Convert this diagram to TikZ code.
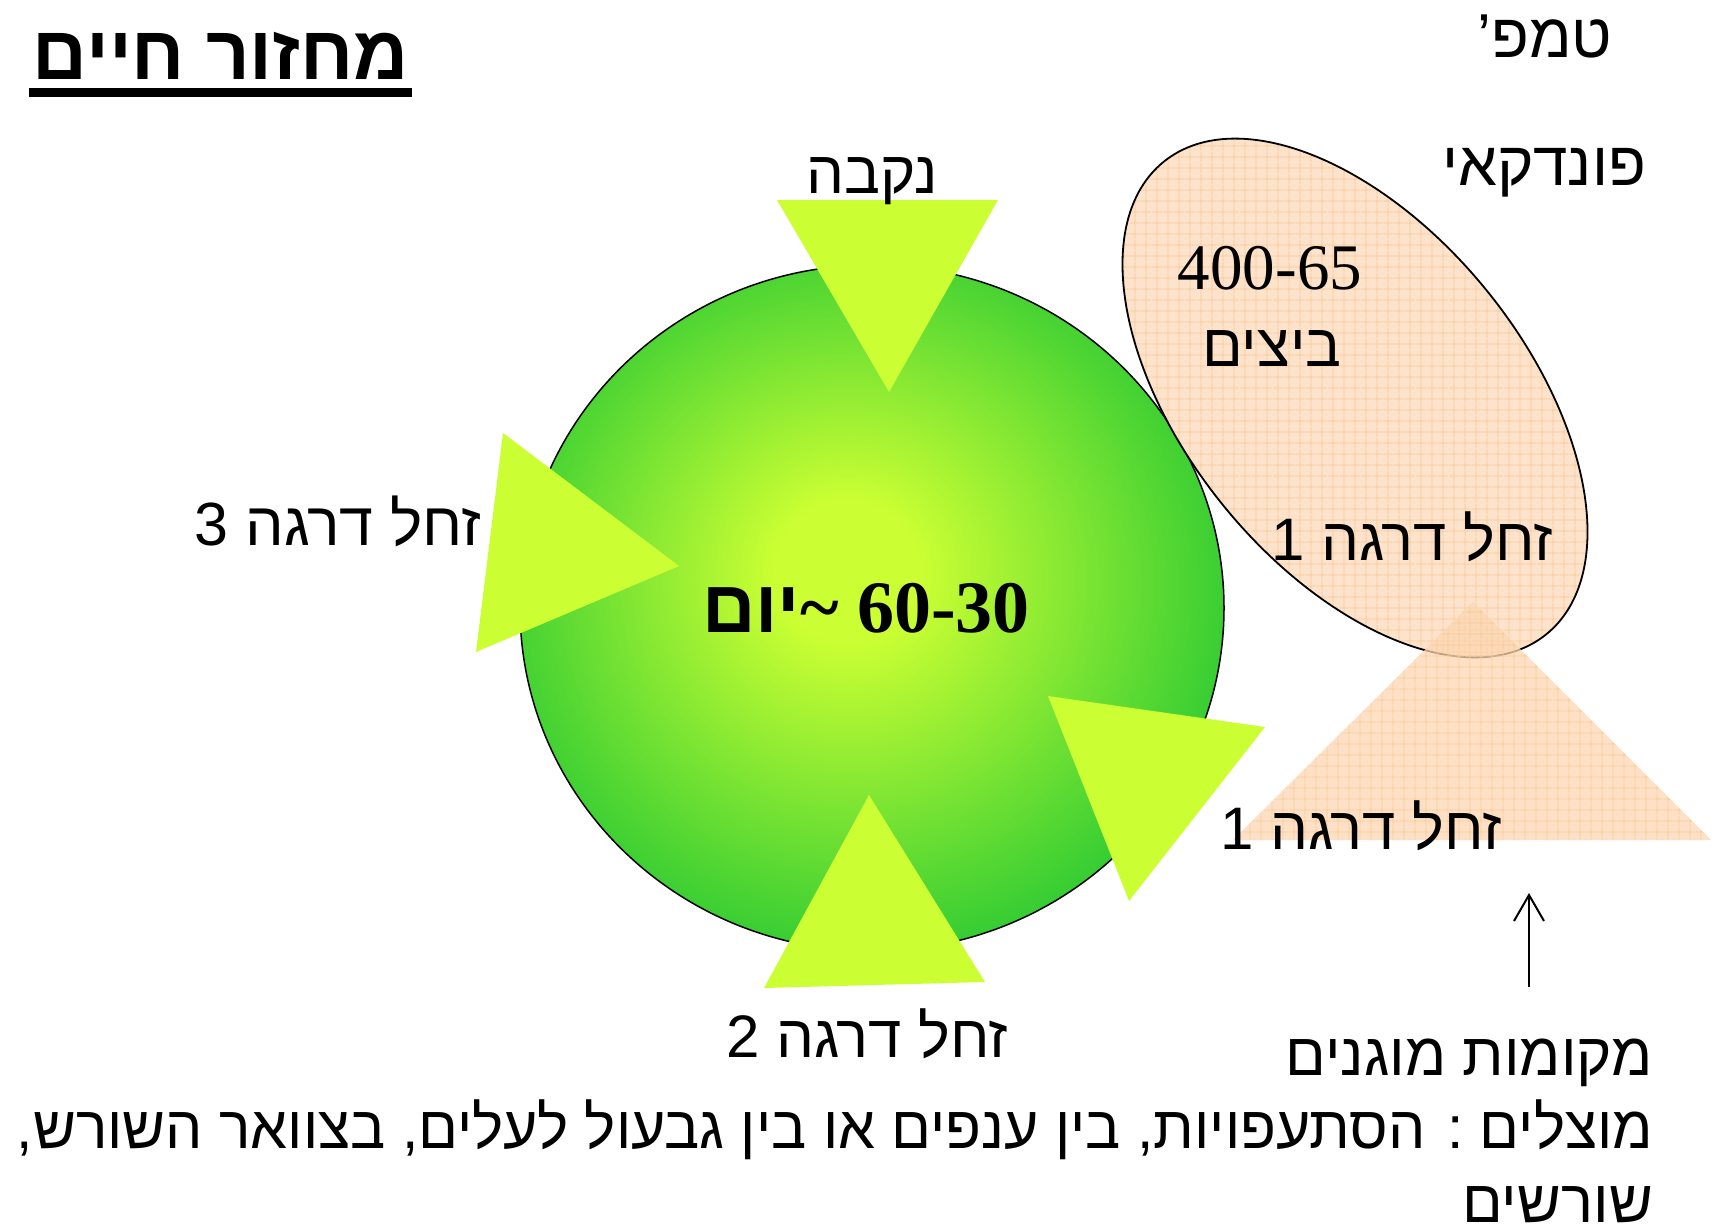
\documentclass[tikz,border=0pt]{standalone}
\usepackage{fontspec}
\usepackage{graphicx}
\usetikzlibrary{patterns.meta,arrows.meta}
\TeXXeTstate=1
\setmainfont{Liberation Sans}
\newfontfamily\heb[Script=Hebrew]{Liberation Sans}
\newfontfamily\tnr{Liberation Serif}
\definecolor{limeC}{HTML}{CCFF33}
\definecolor{greenC}{HTML}{33CC33}
\colorlet{midC}{greenC!45!limeC}
\definecolor{peachC}{HTML}{FDE3CB}
\definecolor{peachT}{HTML}{FCD6B2}
\definecolor{peachL}{HTML}{FAC894}
\pgfdeclareradialshading{greenball}{\pgfpoint{-2bp}{3bp}}{color(0bp)=(limeC); color(5bp)=(limeC); color(15bp)=(midC); color(27bp)=(greenC); color(50bp)=(greenC)}
\tikzset{
  lbl/.style={inner sep=0pt, anchor=base, font=\heb\fontsize{60}{72}\selectfont},
  botlbl/.style={inner sep=0pt, anchor=base east, font=\heb\fontsize{60}{72}\selectfont},
  num/.style={inner sep=0pt, anchor=base, font=\tnr\fontsize{65}{78}\selectfont},
  tri/.style={fill=limeC},
  peachgrid/.style={pattern={Hatch[distance=10.5pt,line width=0.7pt]}, pattern color=peachL}
}
\begin{document}
\begin{tikzpicture}[x=1pt,y=-1pt]
\useasboundingbox (0,0) rectangle (1716,1231);

% green disc
\shadedraw[shading=greenball, draw=black, line width=1.5pt] (872,608) ellipse [x radius=352pt, y radius=343pt];

% green triangles
\fill[tri] (777,200) -- (998,200) -- (889,392) -- cycle;
\fill[tri] (503,433) -- (476,652) -- (679,566) -- cycle;
\fill[tri] (869,795) -- (764,988) -- (985,982) -- cycle;
\fill[tri] (1048,696) -- (1265,727) -- (1129,901) -- cycle;

% peach ellipse
\begin{scope}
  \clip[shift={(1355,398)}, rotate=-51] (0,0) ellipse [x radius=304pt, y radius=170pt];
  \fill[peachC] (1000,100) rectangle (1716,720);
  \fill[peachgrid] (1000,100) rectangle (1716,720);
\end{scope}
\draw[line width=1.8pt, shift={(1355,398)}, rotate=-51] (0,0) ellipse [x radius=304pt, y radius=170pt];

% peach triangle
\fill[peachT, fill opacity=0.75] (1473,602) -- (1233,840) -- (1711,840) -- cycle;
\fill[peachgrid] (1473,602) -- (1233,840) -- (1711,840) -- cycle;

% title
\node[inner sep=0pt, anchor=base, font=\heb\bfseries\fontsize{76}{90}\selectfont] (title) at (221,80) {\beginR מחזור חיים\endR};
\fill ([xshift=-4pt,yshift=-8pt]title.base west) rectangle ([xshift=3pt,yshift=-17pt]title.base east);

% labels
\node[lbl, font=\heb\fontsize{62}{72}\selectfont] (temp) at (1545,58) {\beginR טמפ’\endR};
\node[lbl, font=\heb\fontsize{62}{72}\selectfont] (pund) at (1544,185) {\beginR פונדקאי\endR};
\node[lbl] (nekeva) at (872,193) {\beginR נקבה\endR};
\node[lbl, font=\heb\fontsize{61}{72}\selectfont] (zachal3) at (338,545) {\beginR זחל דרגה 3\endR};
\node[lbl] (zachal1a) at (1412,560) {\beginR זחל דרגה 1\endR};
\node[lbl] (zachal1b) at (1361,849) {\beginR זחל דרגה 1\endR};
\node[lbl] (zachal2) at (867,1057) {\beginR זחל דרגה 2\endR};
\node[num] (eggsnum) at (1270,289) {400-65};
\node[lbl] (eggs) at (1272,366) {\beginR ביצים\endR};
\node[inner sep=0pt, anchor=base] (days) at (866,632) {{\heb\bfseries\fontsize{74}{90}\selectfont\beginR יום\endR}{\tnr\bfseries\fontsize{74}{90}\selectfont\textasciitilde\ 60-30}};

% bottom text
\node[botlbl] (prot) at (1653,1075) {\beginR מקומות מוגנים\endR};
\node[botlbl] (shade2) at (1653,1148) {\resizebox{1636pt}{\height}{\beginR מוצלים : הסתעפויות, בין ענפים או בין גבעול לעלים, בצוואר השורש,\endR}};
\node[botlbl] (roots) at (1653,1222) {\beginR שורשים\endR};

% arrow
\coordinate (arrS) at (1529,987);
\coordinate (arrE) at (1529,893);
\draw[line width=2pt, -{Straight Barb[length=26pt,width=30pt,line width=2pt]}] (arrS) -- (arrE);
\end{tikzpicture}
\end{document}
